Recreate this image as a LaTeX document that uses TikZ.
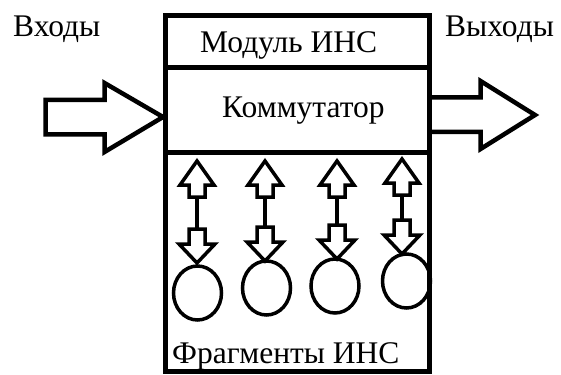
\documentclass[tikz,border=0pt]{standalone}
\usepackage{fontspec}
\setmainfont{Liberation Serif}
\usetikzlibrary{shapes.geometric}
\tikzset{
  lbl/.style={inner sep=0pt, anchor=base west, font=\fontsize{31.5}{36}\selectfont},
  frame/.style={line width=5pt},
  bigarrow/.style={line width=4.5pt, line join=miter},
  smallarrow/.style={line width=3.5pt, line join=miter},
  frag/.style={ellipse, draw, line width=3.5pt, minimum width=48pt, minimum height=54pt, inner sep=0pt}
}
\newcommand\bidirarrow[3]{%
  \draw[smallarrow] (#1,#2) -- ({#1+17},{#2+24}) -- ({#1+8},{#2+24}) -- ({#1+8},{#2+36})
     -- ({#1-8},{#2+36}) -- ({#1-8},{#2+24}) -- ({#1-17},{#2+24}) -- cycle;
  \draw[smallarrow] (#1,{#2+36}) -- (#1,{#3-34});
  \draw[smallarrow] (#1,#3) -- ({#1+18},{#3-19}) -- ({#1+8},{#3-19}) -- ({#1+8},{#3-34})
     -- ({#1-8},{#3-34}) -- ({#1-8},{#3-19}) -- ({#1-18},{#3-19}) -- cycle;
}
\begin{document}
\begin{tikzpicture}[x=1pt,y=-1pt]
\useasboundingbox (0,0) rectangle (561,374);
% main frame
\draw[frame] (165.5,15.5) rectangle (429.5,371.5);
\draw[frame] (165.5,67.5) -- (429.5,67.5);
\draw[frame] (165.5,152.5) -- (429.5,152.5);
% big arrows
\draw[bigarrow] (45.5,100) -- (104.5,100) -- (104.5,83) -- (163,117) -- (104.5,152)
   -- (104.5,134.5) -- (45.5,134.5) -- cycle;
\draw[bigarrow] (429.5,97.5) -- (480.5,97.5) -- (480.5,81) -- (535,115) -- (480.5,149)
   -- (480.5,132) -- (429.5,132);
% labels
\node[lbl] (in) at (13,37) {Входы};
\node[lbl] (out) at (445,37) {Выходы};
\node[lbl] (mod) at (200,53) {Модуль ИНС};
\node[lbl] (com) at (222,118) {Коммутатор};
\node[lbl] (frg) at (172,363) {Фрагменты ИНС};
% fragments
\node[frag] (c1) at (197.5,293) {};
\node[frag] (c2) at (266.5,288) {};
\node[frag] (c3) at (335,286) {};
\node[frag] (c4) at (406.5,281) {};
\bidirarrow{197}{161}{263}
\bidirarrow{265}{161}{261}
\bidirarrow{337}{161}{259}
\bidirarrow{402}{159}{254}
\end{tikzpicture}
\end{document}
